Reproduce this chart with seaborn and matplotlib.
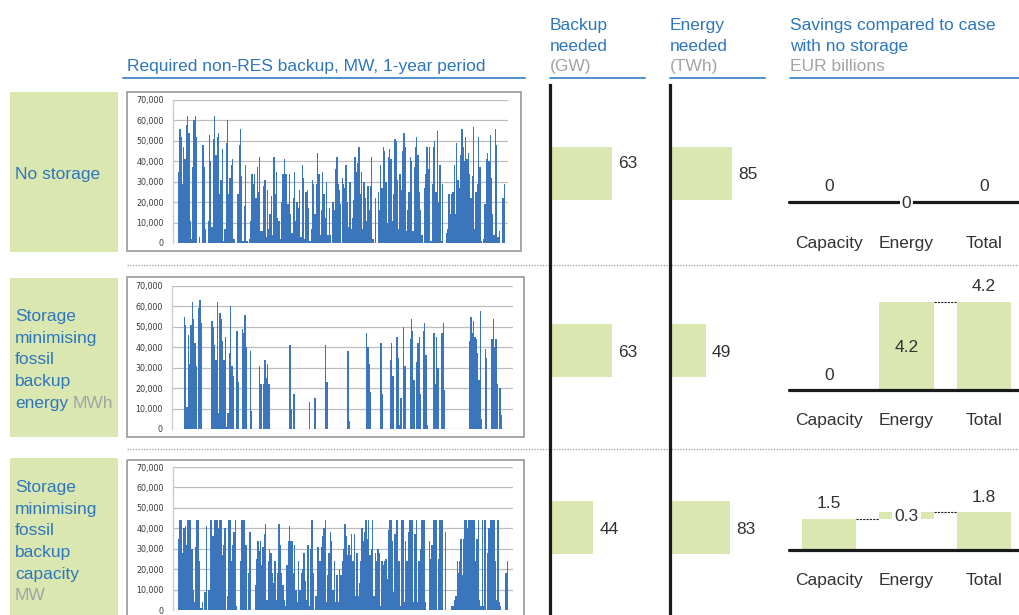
import numpy as np
import pandas as pd
import matplotlib
matplotlib.use("Agg")
import matplotlib.pyplot as plt
from matplotlib.patches import Rectangle
from matplotlib.lines import Line2D
from matplotlib.ticker import FuncFormatter
import seaborn as sns

# ---------------------------------------------------------------- data
scenarios = ["No storage",
             "Storage minimising fossil backup energy",
             "Storage minimising fossil backup capacity"]
backup_gw = [63, 63, 44]
energy_twh = [85, 49, 83]

saving_parts = ["Capacity", "Energy", "Total"]
saving_capacity = [0, 0, 1.5]
saving_energy = [0, 4.2, 0.3]
saving_total = [0, 4.2, 1.8]

# Peak non-RES backup per period over the year, in GW (axis shows MW)
backup_no_storage = [
    35, 56, 52, 29, 47, 41, 58, 62, 54, 11, 2, 37, 60, 62, 52, 0, 3, 0, 0, 48,
    37, 7, 0, 11, 53, 40, 8, 51, 62, 43, 52, 54, 24, 31, 46, 1, 7, 49, 60, 24,
    32, 38, 41, 2, 0, 0, 24, 48, 56, 33, 1, 18, 38, 1, 0, 2, 11, 34, 29, 34,
    22, 37, 25, 42, 6, 6, 28, 31, 3, 26, 7, 14, 23, 4, 42, 24, 35, 12, 11, 2,
    20, 34, 41, 34, 34, 19, 34, 14, 5, 22, 35, 11, 20, 17, 26, 3, 38, 32, 2, 25,
    26, 17, 1, 7, 31, 29, 14, 29, 44, 34, 4, 16, 35, 24, 12, 30, 4, 17, 4, 0,
    20, 16, 36, 42, 29, 26, 19, 32, 29, 27, 38, 20, 8, 30, 7, 12, 21, 42, 35, 39,
    47, 24, 35, 7, 30, 22, 11, 28, 16, 28, 42, 2, 0, 22, 0, 25, 16, 38, 27, 47,
    45, 30, 10, 42, 46, 41, 11, 24, 51, 50, 31, 7, 34, 26, 45, 54, 47, 6, 16, 25,
    42, 40, 6, 37, 47, 52, 43, 25, 16, 4, 0, 27, 34, 47, 36, 47, 1, 29, 47, 50,
    25, 55, 20, 38, 1, 29, 0, 0, 5, 7, 24, 14, 24, 25, 38, 14, 49, 31, 27, 43,
    56, 47, 40, 52, 41, 44, 34, 22, 33, 57, 7, 25, 29, 52, 37, 1, 0, 2, 19, 41,
    44, 40, 53, 32, 14, 4, 56, 48, 3, 6, 0, 0, 22, 29,
]

backup_min_energy = [
    0, 0, 55, 51, 11, 46, 32, 51, 62, 54, 42, 31, 0, 59, 63, 52, 0, 0, 0, 0,
    0, 0, 0, 53, 50, 41, 34, 62, 8, 57, 54, 43, 34, 45, 1, 8, 37, 60, 31, 26,
    0, 0, 48, 23, 0, 0, 49, 47, 56, 40, 0, 0, 38, 9, 0, 0, 0, 0, 0, 31,
    22, 0, 22, 34, 25, 32, 22, 0, 0, 0, 0, 0, 0, 0, 0, 0, 0, 0, 0, 0,
    0, 0, 41, 10, 0, 17, 0, 0, 0, 0, 0, 0, 0, 0, 0, 0, 0, 13, 0, 0,
    0, 15, 0, 0, 0, 0, 0, 0, 0, 41, 23, 0, 0, 0, 0, 0, 0, 0, 0, 0,
    0, 0, 0, 0, 0, 0, 38, 4, 0, 0, 0, 0, 0, 0, 0, 0, 0, 0, 0, 0,
    47, 40, 32, 18, 0, 0, 0, 0, 0, 0, 0, 42, 17, 0, 0, 0, 0, 0, 34, 42,
    26, 0, 0, 45, 35, 2, 15, 0, 50, 31, 0, 0, 0, 44, 54, 48, 24, 0, 33, 42,
    45, 17, 0, 48, 52, 36, 2, 0, 0, 0, 0, 47, 22, 45, 30, 0, 0, 47, 52, 19,
    0, 0, 0, 0, 0, 0, 0, 0, 0, 0, 0, 0, 0, 0, 0, 0, 0, 0, 43, 55,
    47, 53, 45, 44, 37, 24, 58, 5, 0, 0, 39, 35, 0, 0, 0, 44, 54, 40, 44, 22,
    0, 20, 7,
]

backup_min_capacity = [
    35, 44, 44, 28, 40, 41, 32, 44, 44, 44, 30, 10, 4, 31, 44, 44, 24, 1, 4, 0,
    9, 41, 0, 10, 44, 44, 36, 44, 44, 44, 40, 44, 44, 27, 32, 40, 0, 7, 44, 44,
    24, 32, 38, 44, 2, 0, 0, 24, 44, 44, 44, 32, 0, 18, 38, 0, 0, 0, 12, 25,
    34, 29, 34, 22, 31, 37, 42, 5, 24, 30, 28, 18, 13, 24, 5, 18, 42, 32, 18, 12,
    5, 2, 22, 34, 41, 34, 34, 18, 32, 10, 4, 24, 10, 18, 20, 28, 14, 5, 32, 2,
    30, 44, 18, 0, 7, 31, 31, 24, 31, 36, 40, 44, 4, 17, 28, 38, 34, 10, 24, 4,
    17, 4, 20, 17, 24, 30, 42, 36, 27, 32, 27, 37, 24, 37, 7, 28, 7, 13, 24, 40,
    34, 38, 44, 35, 44, 27, 30, 44, 7, 28, 24, 30, 28, 2, 24, 22, 24, 25, 15, 39,
    44, 44, 34, 9, 37, 44, 44, 24, 2, 44, 44, 4, 34, 24, 38, 44, 44, 44, 4, 37,
    44, 4, 24, 30, 44, 44, 44, 4, 0, 0, 34, 25, 32, 44, 44, 44, 0, 25, 44, 44,
    44, 0, 38, 0, 0, 0, 0, 2, 2, 5, 7, 24, 18, 24, 35, 17, 35, 44, 44, 40,
    44, 44, 44, 44, 44, 24, 35, 44, 5, 2, 44, 2, 44, 0, 28, 40, 44, 44, 44, 44,
    24, 5, 44, 4, 2, 0, 0, 0, 18, 24,
]
series = [backup_no_storage, backup_min_energy, backup_min_capacity]

# ---------------------------------------------------------------- style
W, H = 1019, 615
sns.set_theme(style="white")
plt.rcParams["font.family"] = ["Liberation Sans", "DejaVu Sans"]

GREEN = "#dbe7b0"
BLUE = "#2e76bc"
LINE_BLUE = "#4f8fcb"
GREY = "#a3a3a3"
DARK = "#333333"
SPIKE = "#3b75bc"
FS = 12.5
PT = 0.72  # points per pixel at 100 dpi

fig = plt.figure(figsize=(W / 100, H / 100), dpi=100)
canvas_ax = fig.add_axes([0, 0, 1, 1])
canvas_ax.set_axis_off()
canvas_ax.set_xlim(0, W)
canvas_ax.set_ylim(H, 0)


def rect(x0, y0, x1, y1):
    return [x0 / W, 1 - y1 / H, (x1 - x0) / W, (y1 - y0) / H]


def label(x, y, s, color=BLUE, **kw):
    return canvas_ax.text(x, y, s, color=color, fontsize=FS, va="baseline", ha="left", **kw)


# ---------------------------------------------------------------- headers
label(127, 71, "Required non-RES backup, MW, 1-year period")
for x, lines in [(550, ["Backup", "needed"]), (670, ["Energy", "needed"]),
                 (790, ["Savings compared to case", "with no storage"])]:
    for k, s in enumerate(lines):
        label(x, 30 + 21 * k, s)
label(550, 71, "(GW)", color=GREY)
label(670, 71, "(TWh)", color=GREY)
label(790, 71, "EUR billions", color=GREY)

for x0, x1 in [(123, 525), (550, 645), (670, 765), (790, 1019)]:
    canvas_ax.add_line(Line2D([x0, x1], [78, 78], color=LINE_BLUE, lw=1.4))

# row separators
for y in (265, 449):
    canvas_ax.add_line(Line2D([127, W], [y, y], color="#9a9a9a", lw=0.9,
                              dashes=(1, 1.2)))

# ---------------------------------------------------------------- left labels
green_boxes = [(10, 92, 118, 252), (10, 278, 118, 437), (10, 458, 118, 620)]
for x0, y0, x1, y1 in green_boxes:
    canvas_ax.add_patch(Rectangle((x0, y0), x1 - x0, y1 - y0, color=GREEN, lw=0, zorder=0))

label(15, 179, "No storage")
row_lines = [(321, ["Storage", "minimising", "fossil", "backup", "energy"], "MWh"),
             (492, ["Storage", "minimising", "fossil", "backup", "capacity"], "MW")]
for y0, words, unit in row_lines:
    last = None
    for k, s in enumerate(words):
        last = label(15, y0 + 21.7 * k, s)
    if unit == "MWh":
        canvas_ax.annotate(unit, xy=(1, y0 + 21.7 * 4), xycoords=(last, "data"),
                           xytext=(3, 0), textcoords="offset points",
                           color=GREY, fontsize=FS, va="baseline", ha="left")
    else:
        label(15, y0 + 21.7 * 5, unit, color=GREY)

# ---------------------------------------------------------------- time series charts
chart_boxes = [(127, 92, 521, 251), (127, 277, 524, 437), (127, 460, 524, 630)]
chart_axes = [(173, 100, 508, 243), (172, 286, 513, 429), (173, 467, 513, 610)]
data_span = [(178, 505), (181, 502), (178, 508)]
mw_fmt = FuncFormatter(lambda v, _: f"{v * 1000:,.0f}")

for (bx0, by0, bx1, by1), (ax0, ay0, ax1, ay1), (d0, d1), vals in zip(
        chart_boxes, chart_axes, data_span, series):
    canvas_ax.add_patch(Rectangle((bx0, by0), bx1 - bx0, by1 - by0, fill=False,
                                  edgecolor="#a0a0a0", lw=1.3, zorder=1))
    ax = fig.add_axes(rect(ax0, ay0, ax1, ay1))
    df = pd.DataFrame({"t": np.arange(len(vals)), "gw": vals})
    sns.barplot(data=df, x="t", y="gw", ax=ax, color=SPIKE, saturation=1,
                width=1.0, errorbar=None, native_scale=True, linewidth=0)
    n = len(vals)
    per_px = n / (d1 - d0)
    ax.set_xlim(-0.5 - (d0 - ax0) * per_px, n - 0.5 + (ax1 - d1) * per_px)
    ax.set_ylim(0, 70)
    ax.set_yticks(range(0, 71, 10))
    ax.yaxis.set_major_formatter(mw_fmt)
    ax.set_xticks([])
    ax.set_xlabel("")
    ax.set_ylabel("")
    ax.grid(axis="y", color="#bdbdbd", lw=0.9)
    ax.set_axisbelow(True)
    ax.tick_params(axis="y", length=0, pad=6.5, labelsize=5.8, labelcolor="#3a3a3a")
    for t in ax.get_yticklabels():
        t.set_fontfamily("DejaVu Sans")
    for side in ("top", "right", "bottom"):
        ax.spines[side].set_visible(False)
    ax.spines["left"].set_color("#cccccc")
    ax.spines["left"].set_linewidth(1)
    ax.set_facecolor("none")

# ---------------------------------------------------------------- backup / energy bars
bar_df = pd.DataFrame({"scenario": scenarios, "backup": backup_gw, "energy": energy_twh})
label_dy = [[10, -2, -2], [-1, -2, -2]]  # vertical nudges of the value labels, px
for col, (x0, xmax), dys in [("backup", (550, 96.5), label_dy[0]),
                            ("energy", (670, 130.7), label_dy[1])]:
    ax = fig.add_axes(rect(x0, 85, x0 + 95, 615.5))
    sns.barplot(data=bar_df, y="scenario", x=col, ax=ax, orient="h", color=GREEN,
                saturation=1, width=0.3, errorbar=None, linewidth=0)
    ax.set_xlim(0, xmax)
    ax.set_ylim(2.5, -0.5)
    ax.set_xticks([])
    ax.set_yticks([])
    ax.set_xlabel("")
    ax.set_ylabel("")
    for side in ("top", "right", "bottom"):
        ax.spines[side].set_visible(False)
    ax.spines["left"].set_color("#1a1a1a")
    ax.spines["left"].set_linewidth(2.3)
    ax.set_facecolor("none")
    for i, v in enumerate(bar_df[col]):
        ax.annotate(f"{v}", xy=(v, i), xytext=(6 * PT, dys[i] * PT),
                    textcoords="offset points", va="center", ha="left",
                    fontsize=FS, color=DARK)

# ---------------------------------------------------------------- savings waterfalls
baselines = [202, 390, 550]
cat_offsets = [46, 35, 35]
SCALE = 21.0  # px per EUR billion
for r, (base, cat_off) in enumerate(zip(baselines, cat_offsets)):
    cap, en, tot = saving_capacity[r], saving_energy[r], saving_total[r]
    ax = fig.add_axes(rect(789, base - 115, 1019, base))
    wf = pd.DataFrame({"part": saving_parts, "value": [cap, 0, tot]})
    sns.barplot(data=wf, x="part", y="value", ax=ax, color=GREEN, saturation=1,
                width=0.7, errorbar=None, linewidth=0)
    ax.bar(1, en, bottom=cap, width=0.7, color=GREEN, lw=0)
    ax.set_xlim(-0.516, 2.45)
    ax.set_ylim(0, 115 / SCALE)
    ax.set_axis_off()
    ax.axhline(0, color="#1a1a1a", lw=2.3, clip_on=False, zorder=3)

    # dashed connectors between steps
    ax.plot([0.35, 0.65], [cap, cap], color="#222222", lw=0.8, dashes=(2, 1), zorder=2)
    ax.plot([1.35, 1.65], [tot, tot], color="#222222", lw=0.8, dashes=(2, 1), zorder=2)

    for i, v in [(0, cap), (2, tot)]:
        ax.annotate(f"{v:g}", xy=(i, v), xytext=(0, 15 * PT), textcoords="offset points",
                    ha="center", va="center", fontsize=FS, color=DARK, annotation_clip=False)
    small = en * SCALE < 20
    ax.annotate(f"{en:g}", xy=(1, cap + en / 2), xytext=(0, -1.5 * PT),
                textcoords="offset points", ha="center", va="center", fontsize=FS,
                color=DARK, zorder=5, annotation_clip=False,
                bbox=dict(boxstyle="square,pad=0.12", fc="white", ec="none") if small else None)
    for i, s in enumerate(saving_parts):
        ax.annotate(s, xy=(i, 0), xytext=(0, -cat_off * PT), textcoords="offset points",
                    ha="center", va="baseline", fontsize=FS, color=DARK,
                    annotation_clip=False)

fig.savefig("out.png", dpi=100)
